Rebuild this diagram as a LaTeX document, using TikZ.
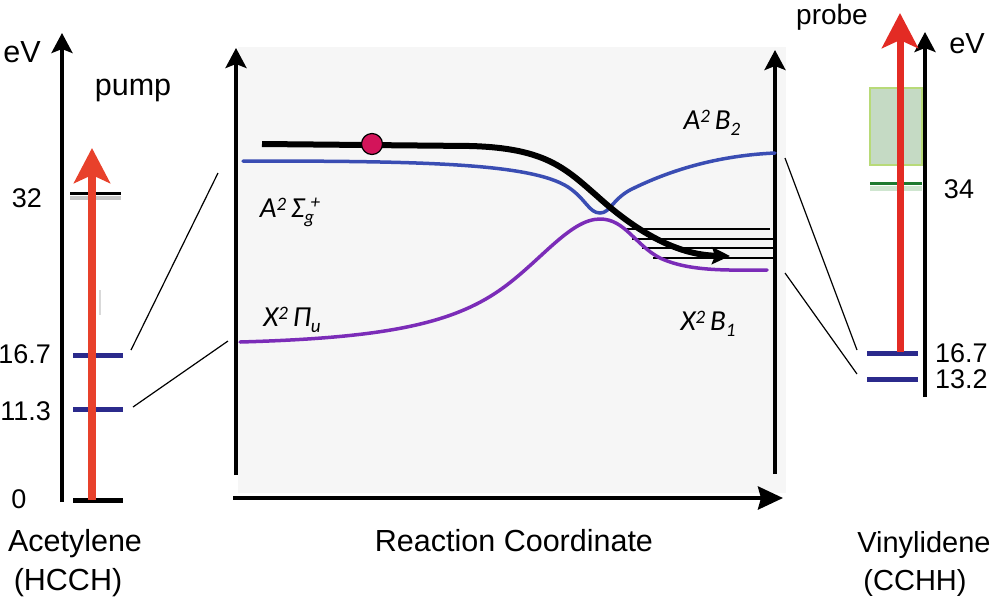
\documentclass[tikz,border=0pt]{standalone}
\usepackage{fontspec}
\setmainfont{Liberation Sans}
\newfontfamily\calfont{Carlito}
\usetikzlibrary{arrows.meta}
\definecolor{pumpred}{HTML}{E8412B}
\definecolor{probered}{HTML}{E32B24}
\definecolor{navy}{HTML}{2B2A8C}
\definecolor{curveblue}{HTML}{3A4DB3}
\definecolor{curvepurple}{HTML}{7B2CB8}
\definecolor{dotred}{HTML}{D3145A}
\definecolor{boxfill}{HTML}{C5DAC4}
\definecolor{boxline}{HTML}{B8DA78}
\definecolor{dkgreen}{HTML}{1F7A30}
\definecolor{ltgreen}{HTML}{CFE6D0}
\definecolor{panelbg}{HTML}{F6F6F6}
\newcommand\lblfont{\fontsize{30.5}{34}\selectfont}
\newcommand\rlblfont{\fontsize{29}{33}\selectfont}
\newcommand\numfont{\fontsize{27}{31}\selectfont}
\newcommand\stfont{\calfont\itshape\fontsize{29}{33}\selectfont}
\newcommand\mysup[1]{\raisebox{0.24em}{\fontsize{19}{19}\selectfont #1}}
\newcommand\mysub[1]{\raisebox{-0.22em}{\fontsize{19}{19}\selectfont #1}}
\newcommand\subsup[2]{\raisebox{-0.22em}{\fontsize{19}{19}\selectfont #1}\hspace{-0.12em}\raisebox{0.30em}{\fontsize{19}{19}\selectfont #2}}
\begin{document}
\begin{tikzpicture}[x=1pt,y=-1pt,
  axis/.style={line width=3.5pt,-{Stealth[length=20pt,width=21pt,inset=4pt]}},
  haxis/.style={line width=4pt,-{Stealth[length=25pt,width=23pt,inset=3pt]}},
  laser/.style={line width=8pt,-{Stealth[length=35pt,width=36pt,inset=8pt]}},
  navylevel/.style={navy,line width=5pt},
  blacklevel/.style={black,line width=3pt},
  conn/.style={black,line width=1.2pt},
  vib/.style={black,line width=1.2pt},
  pes/.style={line width=3.5pt,line cap=round},
  txt/.style={inner sep=0pt,anchor=base}]
\useasboundingbox (0,0) rectangle (993,606);
% background panel
\fill[panelbg] (238,47) rectangle (786,493);

% ---------------- left panel (acetylene)
\draw[axis] (62,502) -- (62,33);
\node[txt] (evL) at (22,62) {\lblfont eV};
\node[txt] (pump) at (133,95) {\lblfont pump};
\draw[gray!45,line width=4pt] (70,198) -- (121,198);
\draw[blacklevel] (70,193) -- (121,193);
\draw[gray!30,line width=1.5pt] (100,290) -- (100,315);
\draw[navylevel] (73,355) -- (123,355);
\draw[navylevel] (73,409) -- (123,409);
\draw[black,line width=5pt] (73,500) -- (123,500);
\coordinate (pumpbot) at (92,500);
\coordinate (pumptop) at (92,148);
\draw[laser,pumpred] (pumpbot) -- (pumptop);
\node[txt] (n32) at (27,207) {\numfont 32};
\node[txt,anchor=base east] (n167L) at (51,363) {\numfont 16.7};
\node[txt,anchor=base east] (n113) at (51,420) {\numfont 11.3};
\node[txt] (n0) at (19,508) {\numfont 0};
\node[txt] (acet) at (75,551) {\lblfont Acetylene};
\node[txt] (hcch) at (68,590) {\lblfont (HCCH)};

% connectors left
\coordinate (la1) at (131,350); \coordinate (lb1) at (218,173);
\coordinate (la2) at (133,407); \coordinate (lb2) at (228,341);
\draw[conn] (la1) -- (lb1);
\draw[conn] (la2) -- (lb2);

% ---------------- middle panel
\draw[axis] (236,475) -- (236,48);
\draw[axis] (775,474) -- (775,50);
\draw[haxis] (233,498) -- (783,498);
\node[txt] (rc) at (514,551) {\lblfont Reaction Coordinate};

% vibrational levels
\draw[vib] (623,229) -- (770,229);
\draw[vib] (632,239) -- (775,239);
\draw[vib] (642,248) -- (775,248);
\draw[vib] (653,258) -- (775,258);

% potential curves
\draw[pes,curveblue] (243,161) .. controls (420,161) and (530,163) .. (568,187)
   .. controls (586,199) and (589,213) .. (600,213)
   .. controls (610,213) and (612,200) .. (630,190)
   .. controls (680,165) and (730,155) .. (775,153);
\draw[pes,curvepurple] (240,342) .. controls (380,338) and (450,325) .. (500,290)
   .. controls (540,262) and (570,219) .. (600,219)
   .. controls (625,219) and (635,245) .. (660,258)
   .. controls (690,272) and (730,270) .. (767,270);
% wavepacket trajectory
\draw[line width=6pt,-{Stealth[length=18pt,width=17pt,inset=3pt]}]
   (262,144) -- (470,146) .. controls (545,148) and (565,168) .. (597,196)
   .. controls (640,235) and (680,255) .. (730,256);
\node[circle,draw=black,line width=1.2pt,fill=dotred,minimum size=21pt,inner sep=0pt] (wp) at (372,144) {};

\node[txt] (asig) at (290,217) {\stfont A\mysup{2}\,Σ\subsup{g}{+}};
\node[txt] (xpi) at (292,326) {\stfont X\mysup{2}\,Π\mysub{u}};
\node[txt] (ab2) at (712,129) {\stfont A\mysup{2}\,B\mysub{2}};
\node[txt] (xb1) at (708,330) {\stfont X\mysup{2}\,B\mysub{1}};

% connectors right
\coordinate (ra1) at (785,158); \coordinate (rb1) at (857,350);
\coordinate (ra2) at (785,273); \coordinate (rb2) at (857,374);
\draw[conn] (ra1) -- (rb1);
\draw[conn] (ra2) -- (rb2);

% ---------------- right panel (vinylidene)
\draw[axis] (925,397) -- (925,32);
\node[txt] (evR) at (967,53) {\rlblfont eV};
\node[txt] (probe) at (832,24) {\fontsize{28}{32}\selectfont probe};
\fill[boxfill,draw=boxline,line width=1.5pt] (870,88) rectangle (922,165);
\draw[ltgreen,line width=5pt] (870,188) -- (922,188);
\draw[dkgreen,line width=3pt] (870,183) -- (922,183);
\draw[navylevel] (867,353) -- (918,353);
\draw[navylevel] (867,379) -- (918,379);
\coordinate (probebot) at (900,352);
\coordinate (probetop) at (900,13);
\draw[laser,line width=7pt,probered] (probebot) -- (probetop);
\node[txt] (n34) at (959,198) {\numfont 34};
\node[txt,anchor=base west] (n167R) at (935,362) {\numfont 16.7};
\node[txt,anchor=base west] (n132) at (935,388) {\numfont 13.2};
\node[txt] (vinyl) at (924,552) {\rlblfont Vinylidene};
\node[txt] (cchh) at (915,590) {\rlblfont (CCHH)};
\end{tikzpicture}
\end{document}
